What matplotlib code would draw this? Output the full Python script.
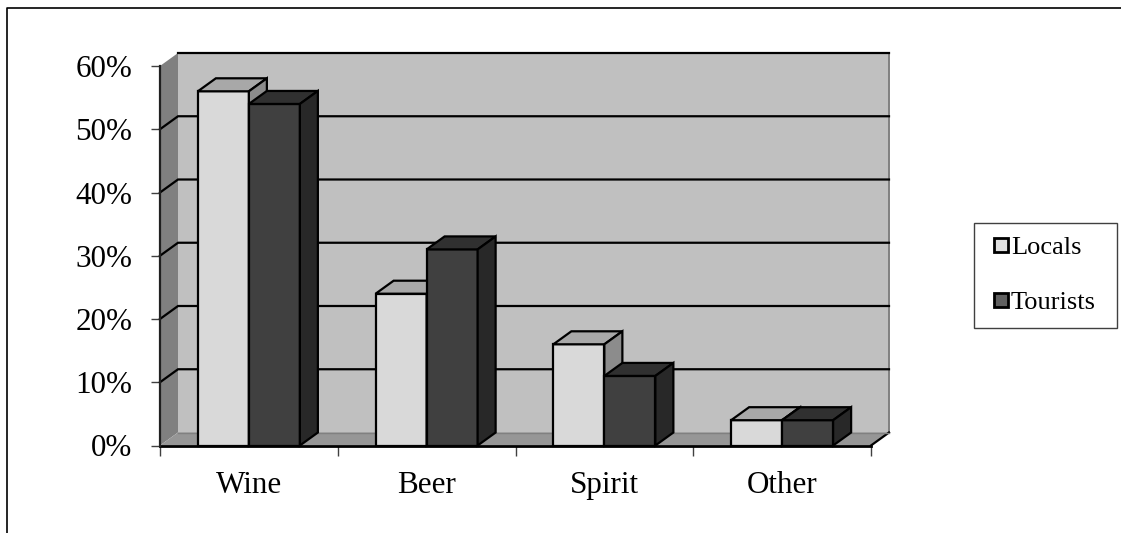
import matplotlib
matplotlib.use("Agg")
import matplotlib.pyplot as plt
from matplotlib.patches import Polygon, Patch, Rectangle
from matplotlib.lines import Line2D
from matplotlib.legend_handler import HandlerPatch

plt.rcParams['font.family'] = ['Liberation Serif', 'DejaVu Serif']

categories = ["Wine", "Beer", "Spirit", "Other"]
locals_pct = [56, 24, 16, 4]
tourists_pct = [54, 31, 11, 4]
yticks = [0, 10, 20, 30, 40, 50, 60]

W, H = 1121, 533
fig = plt.figure(figsize=(W / 100, H / 100), dpi=100, facecolor="white")
L, R, T, B = 160, 871, 66, 445.5
ax = fig.add_axes([L / W, (H - B) / H, (R - L) / W, (B - T) / H])
ax.set_xlim(0, 4)
ax.set_ylim(0, 60)
ax.patch.set_visible(False)
for s in ax.spines.values():
    s.set_visible(False)

# depth of the pseudo-3D projection, in data units
dx = 18 / (R - L) * 4
dy = 13 / (B - T) * 60
bw = 51 / (R - L) * 4
LW = 1.6
kw = dict(clip_on=False)

# walls
ax.add_patch(Polygon([(dx, dy), (4 + dx, dy), (4 + dx, 60 + dy), (dx, 60 + dy)],
                     fc="#c0c0c0", ec="none", zorder=1, **kw))
ax.add_patch(Polygon([(0, 0), (dx, dy), (dx, 60 + dy), (0, 60)],
                     fc="#808080", ec="none", zorder=1, **kw))
ax.add_patch(Polygon([(0, 0), (4, 0), (4 + dx, dy), (dx, dy)],
                     fc="#969696", ec="none", zorder=1, **kw))
ax.plot([4 + dx, 4 + dx], [dy, 60 + dy], color="#808080", lw=1.4, zorder=1.5, **kw)
ax.plot([4, 4 + dx], [0, dy], color="black", lw=LW, zorder=1.5, **kw)
ax.plot([dx, 4 + dx], [dy, dy], color="#808080", lw=1.0, zorder=1.5, **kw)

# gridlines
for v in yticks[1:-1]:
    ax.plot([0, dx, 4 + dx], [v, v + dy, v + dy], color="black", lw=LW, zorder=2,
            solid_joinstyle="miter", **kw)
ax.plot([dx, 4 + dx], [60 + dy, 60 + dy], color="black", lw=LW, zorder=2, **kw)


def box(x, v, front, top, side, z):
    ax.bar(x, v, width=bw, align="edge", color=front, edgecolor="black",
           linewidth=LW, zorder=z, **kw)
    ax.add_patch(Polygon([(x, v), (x + bw, v), (x + bw + dx, v + dy), (x + dx, v + dy)],
                         fc=top, ec="black", lw=LW, joinstyle="miter", zorder=z, **kw))
    ax.add_patch(Polygon([(x + bw, 0), (x + bw + dx, dy), (x + bw + dx, v + dy), (x + bw, v)],
                         fc=side, ec="black", lw=LW, joinstyle="miter", zorder=z, **kw))


for i, (a, b) in enumerate(zip(locals_pct, tourists_pct)):
    c = i + 0.5
    box(c - bw, a, "#d9d9d9", "#a8a8a8", "#8c8c8c", 3 + i * 0.1)
    box(c, b, "#404040", "#303030", "#282828", 3.05 + i * 0.1)

# front axes lines
ax.plot([0, 4], [0, 0], color="black", lw=2.0, zorder=5, **kw)
ax.plot([0, 0], [0, 60], color="#202020", lw=1.6, zorder=5, **kw)

ax.set_yticks(yticks)
ax.set_yticklabels([f"{v}%" for v in yticks], fontsize=22.4)
ax.tick_params(axis="y", length=6.5, width=1.0, color="#404040", pad=13.4)
ax.set_xticks(range(5))
ax.set_xticklabels([])
ax.tick_params(axis="x", length=7, width=1.0, color="#404040")
ax.set_xticks([i + 0.5 for i in range(4)], minor=True)
ax.set_xticklabels(categories, minor=True, fontsize=22.4)
ax.tick_params(axis="x", which="minor", length=0, pad=18.5)


# legend
def square(legend, orig_handle, xdescent, ydescent, width, height, fontsize):
    return Rectangle((width - 10.5 - xdescent, (height - 10.5) / 2 - ydescent), 10.5, 10.5)


handles = [Patch(fc="#e0e0e0", ec="black", lw=2.0), Patch(fc="#606060", ec="black", lw=2.0)]
lx0, lx1, ly0, ly1 = 974, 1117, 222, 327.5
leg = fig.legend(handles, ["Locals", "Tourists"], loc="lower left",
                 bbox_to_anchor=(lx0 / W, (H - ly1) / H, (lx1 - lx0) / W, (ly1 - ly0) / H),
                 mode="expand", borderaxespad=0, fontsize=19, fancybox=False,
                 framealpha=1, edgecolor="#404040", handlelength=0.8, handleheight=0.7,
                 handletextpad=0.1, labelspacing=1.2, borderpad=0.5,
                 handler_map={Patch: HandlerPatch(patch_func=square)})
leg.get_frame().set_linewidth(1.0)

# outer chart frame
fig.add_artist(Line2D([7 / W, 7 / W, 1], [0, (H - 8) / H, (H - 8) / H],
                      color="black", lw=1.2, transform=fig.transFigure))

fig.savefig("out.png", dpi=100)
